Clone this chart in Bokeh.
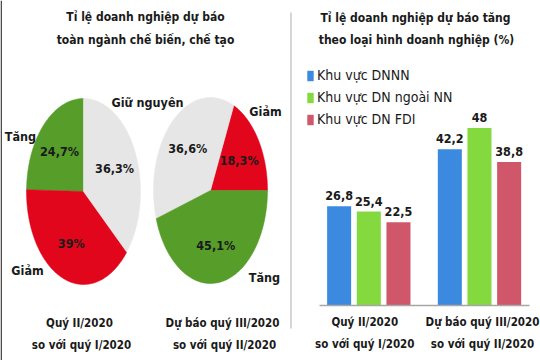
import numpy as np
from bokeh.plotting import figure
from bokeh.models import Range1d, ColumnDataSource, Legend, LegendItem
from bokeh.transform import dodge
from bokeh.core.properties import value
from bokeh.embed import file_html
from bokeh.resources import INLINE

# ---------------- data ----------------
pie_categories = ["Tăng", "Giảm", "Giữ nguyên"]
pie_q2_vs_q1 = [24.7, 39.0, 36.3]
pie_q3_vs_q2 = [45.1, 18.3, 36.6]
pie_captions = [["Quý II/2020", "so với quý I/2020"],
                ["Dự báo quý III/2020", "so với quý II/2020"]]
pie_title = ["Tỉ lệ doanh nghiệp dự báo", "toàn ngành chế biến, chế tạo"]

bar_groups = [["Quý II/2020", "so với quý I/2020"],
              ["Dự báo quý III/2020", "so với quý II/2020"]]
bar_series = ["Khu vực DNNN", "Khu vực DN ngoài NN", "Khu vực DN FDI"]
dnnn = [26.8, 42.2]
dn_ngoai_nn = [25.4, 48.0]
dn_fdi = [22.5, 38.8]
bar_title = ["Tỉ lệ doanh nghiệp dự báo tăng", "theo loại hình doanh nghiệp (%)"]

# ---------------- style ----------------
FONT = "DejaVu Sans Condensed, Roboto Condensed, Liberation Sans Narrow, Roboto"
TXT = "#1a1a1a"
pie_colors = {"Tăng": "#579d2a", "Giảm": "#e2061c", "Giữ nguyên": "#e6e6e6"}
bar_colors = ["#3c8ae0", "#84d93e", "#d0566a"]
W, H = 540, 360


def fmt(v):
    return f"{v:g}".replace(".", ",")


# one canvas; default ranges are a layout grid, extra ranges are the bar scales
PPU = 110.68      # px per bar group
PXY = 3.7         # px per percentage point
G0 = 368.3        # px of first bar group centre
BASE = 305        # px of bar baseline
bx0 = -G0 / PPU
by0 = -(H - BASE) / PXY

p = figure(width=W, height=H, x_range=Range1d(0, W), y_range=Range1d(H, 0),
           output_backend="svg", toolbar_location=None,
           x_axis_location=None, y_axis_location=None, min_border=0)
p.extra_x_ranges = {"bars": Range1d(bx0, bx0 + W / PPU)}
p.extra_y_ranges = {"bars": Range1d(by0, by0 + H / PXY)}
p.outline_line_color = None
p.grid.visible = False


def txt(x, y, text, size, bold=True, **kw):
    p.text(x, y, text=text, text_font=value(FONT),
           text_font_style="bold" if bold else "normal",
           text_font_size=size, text_align="center", text_baseline="middle",
           text_color=TXT, **kw)


# ---------------- pies ----------------
def draw_pie(cx, cy, rx, ry, values, order, start_deg):
    a = start_deg
    xs, ys, cols, lx, ly, lt = [], [], [], [], [], []
    for idx in order:
        span = values[idx] / 100.0 * 360.0
        angs = np.radians(np.linspace(a, a + span, 80))
        xs.append([cx] + list(cx + rx * np.cos(angs)))
        ys.append([cy] + list(cy - ry * np.sin(angs)))
        cols.append(pie_colors[pie_categories[idx]])
        mid = np.radians(a + span / 2)
        lx.append(cx + 0.6 * rx * np.cos(mid))
        ly.append(cy - 0.6 * ry * np.sin(mid))
        lt.append(fmt(values[idx]) + "%")
        a += span
    p.patches(xs, ys, fill_color=cols, line_color=cols, line_width=0.5)
    txt(lx, ly, lt, "12.5px")


draw_pie(83, 191, 57, 93, pie_q2_vs_q1, [0, 1, 2], 90)
draw_pie(210, 190, 57, 93, pie_q3_vs_q2, [1, 2, 0], 0)

txt([20, 27, 147, 265, 264], [136, 270, 102, 111, 277],
    [pie_categories[0], pie_categories[1], pie_categories[2],
     pie_categories[1], pie_categories[0]], "12.5px")
txt([145, 145], [16, 39], pie_title, "12px")
txt([79, 81, 222, 224], [322, 344, 322, 344],
    [pie_captions[0][0], pie_captions[0][1], pie_captions[1][0], pie_captions[1][1]],
    "11.5px")

# separator and left frame edge
p.segment(x0=[290.5], y0=[12], x1=[290.5], y1=[328], line_color="#c8c8c8", line_width=1.5)
p.segment(x0=[0.7], y0=[0], x1=[0.7], y1=[H], line_color="#444444", line_width=1.5)

# ---------------- bars ----------------
gx = list(range(len(bar_groups)))
src = ColumnDataSource(dict(gx=gx, dnnn=dnnn, ngoai=dn_ngoai_nn, fdi=dn_fdi,
                            dnnn_l=[fmt(v) for v in dnnn],
                            ngoai_l=[fmt(v) for v in dn_ngoai_nn],
                            fdi_l=[fmt(v) for v in dn_fdi],
                            zero=[0] * len(gx),
                            cap_dx=[-4, 3],
                            cap1=[g[0] for g in bar_groups],
                            cap2=[g[1] for g in bar_groups]))
offsets = [-0.268, 0.0, 0.268]
cols = ["dnnn", "ngoai", "fdi"]
renderers = []
for off, c, colr in zip(offsets, cols, bar_colors):
    rr = p.vbar(x=dodge("gx", off), top=c, width=0.217, source=src,
                fill_color=colr, line_color=None,
                x_range_name="bars", y_range_name="bars")
    renderers.append(rr)
    p.text(x=dodge("gx", off), y=c, text=c + "_l", source=src,
           x_range_name="bars", y_range_name="bars",
           text_font=value(FONT), text_font_style="bold", text_font_size="12.5px",
           text_align="center", text_baseline="bottom", y_offset=-6, text_color=TXT)

# baseline of the bar chart
p.segment(x0=[gx[0] - 0.445], y0=[0], x1=[gx[-1] + 0.452], y1=[0],
          line_color="#a6a6a6", line_width=1.5,
          x_range_name="bars", y_range_name="bars")

# group captions under the bars
for col, dy in (("cap1", 16), ("cap2", 38)):
    p.text(x="gx", y="zero", text=col, source=src, x_range_name="bars", y_range_name="bars",
           x_offset="cap_dx", y_offset=dy, text_font=value(FONT), text_font_style="bold",
           text_font_size="11.5px", text_align="center", text_baseline="middle",
           text_color=TXT)

txt([415, 416], [17, 39], bar_title, "12px")

legend = Legend(items=[LegendItem(label=s, renderers=[r]) for s, r in zip(bar_series, renderers)],
                location=(306, H - 129), glyph_width=8, glyph_height=13, label_height=20,
                spacing=2, padding=0, margin=0, label_standoff=3,
                border_line_color=None, background_fill_alpha=0,
                label_text_font=FONT, label_text_font_size="14px", label_text_color=TXT)
p.add_layout(legend)

open("out.html", "w").write(file_html(p, INLINE))
